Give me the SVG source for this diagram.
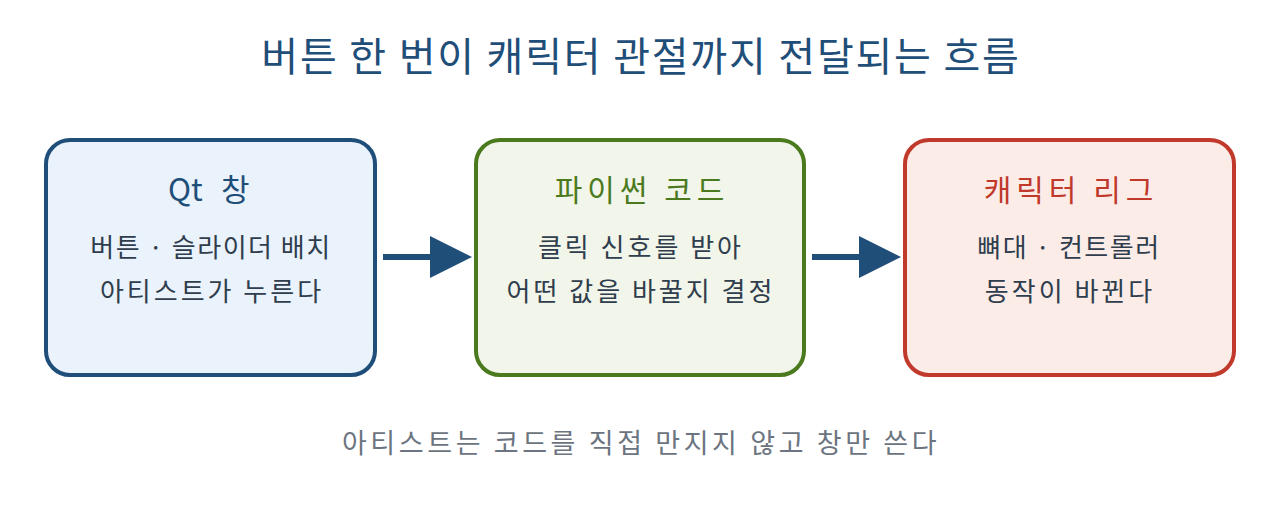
<svg xmlns="http://www.w3.org/2000/svg" width="1280" height="531" viewBox="0 0 1280 531">
<defs>
<style>
text{font-family:"Noto Sans CJK KR","Noto Sans",sans-serif;text-anchor:middle}
.title{font-size:40px;fill:#1f4e79;letter-spacing:1.8px}
.h{font-size:30px;letter-spacing:5px}
.s{font-size:26px;fill:#2f3d4c;letter-spacing:3px}
.dot{letter-spacing:1.5px}
.foot{font-size:27px;fill:#6b7480;letter-spacing:3.6px}
.box{stroke-width:4}
.conn{stroke:#1f4e79;stroke-width:6;fill:none}
</style>
<marker id="ah" viewBox="0 0 10 10" refX="0" refY="5" markerWidth="7" markerHeight="7" markerUnits="strokeWidth" orient="auto"><path d="M0,0L10,5L0,10z" fill="#1f4e79"/></marker>
</defs>
<rect width="1280" height="531" fill="#ffffff"/>
<text class="title" x="641" y="71">버튼 한 번이 캐릭터 관절까지 전달되는 흐름</text>
<g id="qt">
<rect class="box" x="46" y="140" width="329" height="235" rx="24" fill="#eaf2fb" stroke="#1f4e79"/>
<text x="168" y="201" fill="#1f4e79" style="font-size:31px;text-anchor:start">Qt<tspan x="221">창</tspan></text>
<text class="s dot" x="211" y="257">버튼 · 슬라이더 배치</text>
<text class="s" x="212" y="301">아티스트가 누른다</text>
</g>
<g id="py">
<rect class="box" x="476" y="140" width="328" height="235" rx="24" fill="#f2f5e9" stroke="#4b7a1e"/>
<text class="h" x="642" y="201" fill="#4b7a1e">파이썬 코드</text>
<text class="s" x="641" y="257">클릭 신호를 받아</text>
<text class="s" x="641" y="301">어떤 값을 바꿀지 결정</text>
</g>
<g id="rig">
<rect class="box" x="905" y="140" width="329" height="235" rx="24" fill="#fbece8" stroke="#c0392b"/>
<text class="h" x="1071" y="201" fill="#c0392b">캐릭터 리그</text>
<text class="s dot" x="1069" y="257">뼈대 · 컨트롤러</text>
<text class="s" x="1070" y="301">동작이 바뀐다</text>
</g>
<g id="connectors">
<line class="conn" x1="383" y1="257" x2="430" y2="257" marker-end="url(#ah)"/>
<line class="conn" x1="812" y1="257" x2="859" y2="257" marker-end="url(#ah)"/>
</g>
<text class="foot" x="641" y="453">아티스트는 코드를 직접 만지지 않고 창만 쓴다</text>
</svg>
